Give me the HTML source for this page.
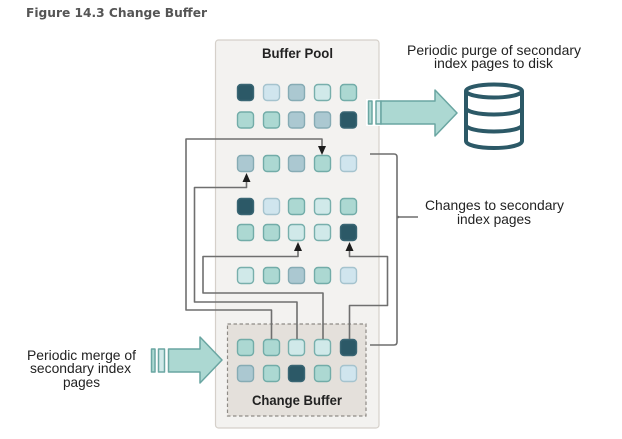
<!DOCTYPE html>
<html><head><meta charset="utf-8"><style>
html,body{margin:0;padding:0;background:#fff;width:622px;height:439px;overflow:hidden}
svg{display:block;filter:blur(0.35px)}
text{font-family:"Liberation Sans",sans-serif;fill:#222}
.D{fill:#2c5967;stroke:#3a6674}
.B{fill:#d0e5ee;stroke:#a5c3ce}
.G{fill:#abc8d1;stroke:#86abb4}
.P{fill:#d0e9e9;stroke:#78afac}
.T{fill:#acd8d2;stroke:#72aca8}
.c{fill:none;stroke:#6f6f6f;stroke-width:1.600;stroke-linejoin:round}
.a{fill:#1c1c1c}
</style></head><body>
<svg width="622" height="439" viewBox="0 0 622 439" xmlns="http://www.w3.org/2000/svg">
<text x="26" y="17" textLength="181" lengthAdjust="spacingAndGlyphs" style="font-family:'DejaVu Sans',sans-serif;font-size:12px;font-weight:bold;fill:#555">Figure 14.3 Change Buffer</text>

<rect x="215.5" y="40" width="163.5" height="388" rx="3" fill="#f3f2f0" stroke="#d5d0ca" stroke-width="1.2"/>
<rect x="227.5" y="324" width="138.5" height="92" fill="#e4e0db" stroke="#8f8b86" stroke-width="1.2" stroke-dasharray="3.5 2.5"/>

<text x="262" y="58" textLength="71" lengthAdjust="spacingAndGlyphs" style="font-size:14px;font-weight:bold">Buffer Pool</text>
<text x="252" y="405" textLength="90" lengthAdjust="spacingAndGlyphs" style="font-size:14px;font-weight:bold">Change Buffer</text>

<g stroke-width="1.4">
<rect class="D" x="237.5" y="84.5" width="16" height="16" rx="3.5"/><rect class="B" x="263.5" y="84.5" width="16" height="16" rx="3.5"/><rect class="G" x="288.5" y="84.5" width="16" height="16" rx="3.5"/><rect class="P" x="314.5" y="84.5" width="16" height="16" rx="3.5"/><rect class="T" x="340.5" y="84.5" width="16" height="16" rx="3.5"/>
<rect class="T" x="237.5" y="112" width="16" height="16" rx="3.5"/><rect class="T" x="263.5" y="112" width="16" height="16" rx="3.5"/><rect class="G" x="288.5" y="112" width="16" height="16" rx="3.5"/><rect class="G" x="314.5" y="112" width="16" height="16" rx="3.5"/><rect class="D" x="340.5" y="112" width="16" height="16" rx="3.5"/>
<rect class="G" x="237.5" y="155.5" width="16" height="16" rx="3.5"/><rect class="T" x="263.5" y="155.5" width="16" height="16" rx="3.5"/><rect class="G" x="288.5" y="155.5" width="16" height="16" rx="3.5"/><rect class="T" x="314.5" y="155.5" width="16" height="16" rx="3.5"/><rect class="B" x="340.5" y="155.5" width="16" height="16" rx="3.5"/>
<rect class="D" x="237.5" y="198.5" width="16" height="16" rx="3.5"/><rect class="B" x="263.5" y="198.5" width="16" height="16" rx="3.5"/><rect class="T" x="288.5" y="198.5" width="16" height="16" rx="3.5"/><rect class="P" x="314.5" y="198.5" width="16" height="16" rx="3.5"/><rect class="T" x="340.5" y="198.5" width="16" height="16" rx="3.5"/>
<rect class="T" x="237.5" y="224.5" width="16" height="16" rx="3.5"/><rect class="T" x="263.5" y="224.5" width="16" height="16" rx="3.5"/><rect class="P" x="288.5" y="224.5" width="16" height="16" rx="3.5"/><rect class="P" x="314.5" y="224.5" width="16" height="16" rx="3.5"/><rect class="D" x="340.5" y="224.5" width="16" height="16" rx="3.5"/>
<rect class="P" x="237.5" y="267.5" width="16" height="16" rx="3.5"/><rect class="T" x="263.5" y="267.5" width="16" height="16" rx="3.5"/><rect class="G" x="288.5" y="267.5" width="16" height="16" rx="3.5"/><rect class="T" x="314.5" y="267.5" width="16" height="16" rx="3.5"/><rect class="B" x="340.5" y="267.5" width="16" height="16" rx="3.5"/>
<rect class="T" x="237.5" y="339.5" width="16" height="16" rx="3.5"/><rect class="T" x="263.5" y="339.5" width="16" height="16" rx="3.5"/><rect class="P" x="288.5" y="339.5" width="16" height="16" rx="3.5"/><rect class="P" x="314.5" y="339.5" width="16" height="16" rx="3.5"/><rect class="D" x="340.5" y="339.5" width="16" height="16" rx="3.5"/>
<rect class="G" x="237.5" y="365.5" width="16" height="16" rx="3.5"/><rect class="T" x="263.5" y="365.5" width="16" height="16" rx="3.5"/><rect class="D" x="288.5" y="365.5" width="16" height="16" rx="3.5"/><rect class="T" x="314.5" y="365.5" width="16" height="16" rx="3.5"/><rect class="B" x="340.5" y="365.5" width="16" height="16" rx="3.5"/>
</g>

<path class="c" d="M271.5 339V310H186V139H322V148"/>
<path class="c" d="M297 339V302H194.500V187.500H246.500V181"/>
<path class="c" d="M323 339V293H203V256.500H298V250"/>
<path class="c" d="M349.500 339V305.500H387.500V256.500H349.500V250"/>
<path class="a" d="M318 146H326L322 155Z"/>
<path class="a" d="M242.500 182H250.500L246.500 173Z"/>
<path class="a" d="M294 251H302L298 242Z"/>
<path class="a" d="M345.500 251H353.500L349.500 242Z"/>

<path class="c" d="M370 154H394Q397 154 397 157V342Q397 345 394 345H370"/>
<path class="c" d="M397 217H418"/>
<circle cx="398" cy="217" r="1.300" fill="#6f6f6f"/>

<rect x="366" y="99" width="16" height="27" fill="#fff"/>
<g fill="#acd8d2" stroke="#6aa6a2" stroke-width="1.500" stroke-linejoin="round">
<rect x="368.500" y="101" width="3.500" height="23"/>
<rect x="376" y="101" width="5" height="23" fill="#d0e9e9"/>
<path d="M381 101H435V90L457 113L435 136V124H381Z"/>
<rect x="151.500" y="349" width="3.500" height="23"/>
<rect x="158.500" y="349" width="6" height="23" fill="#d0e9e9"/>
<path d="M168.500 349H200V337L222 360L200 383V372H168.500Z"/>
</g>

<g fill="none" stroke="#2c5967" stroke-width="4">
<ellipse cx="494" cy="91" rx="28" ry="6.500"/>
<path d="M466 91V141C466 145 478 148 494 148S522 145 522 141V91"/>
<path d="M466 108C466 111.500 478 114.500 494 114.500S522 111.500 522 108"/>
<path d="M466 125C466 128.500 478 131.500 494 131.500S522 128.500 522 125"/>
</g>

<text x="407" y="55" textLength="174" lengthAdjust="spacingAndGlyphs" style="font-size:14px">Periodic purge of secondary</text>
<text x="434" y="68" textLength="119" lengthAdjust="spacingAndGlyphs" style="font-size:14px">index pages to disk</text>
<text x="425" y="210" textLength="139" lengthAdjust="spacingAndGlyphs" style="font-size:14px">Changes to secondary</text>
<text x="457" y="224" textLength="74" lengthAdjust="spacingAndGlyphs" style="font-size:14px">index pages</text>
<text x="27" y="360" textLength="109" lengthAdjust="spacingAndGlyphs" style="font-size:14px">Periodic merge of</text>
<text x="30" y="373" textLength="101" lengthAdjust="spacingAndGlyphs" style="font-size:14px">secondary index</text>
<text x="63" y="387" textLength="37" lengthAdjust="spacingAndGlyphs" style="font-size:14px">pages</text>
</svg>
</body></html>
